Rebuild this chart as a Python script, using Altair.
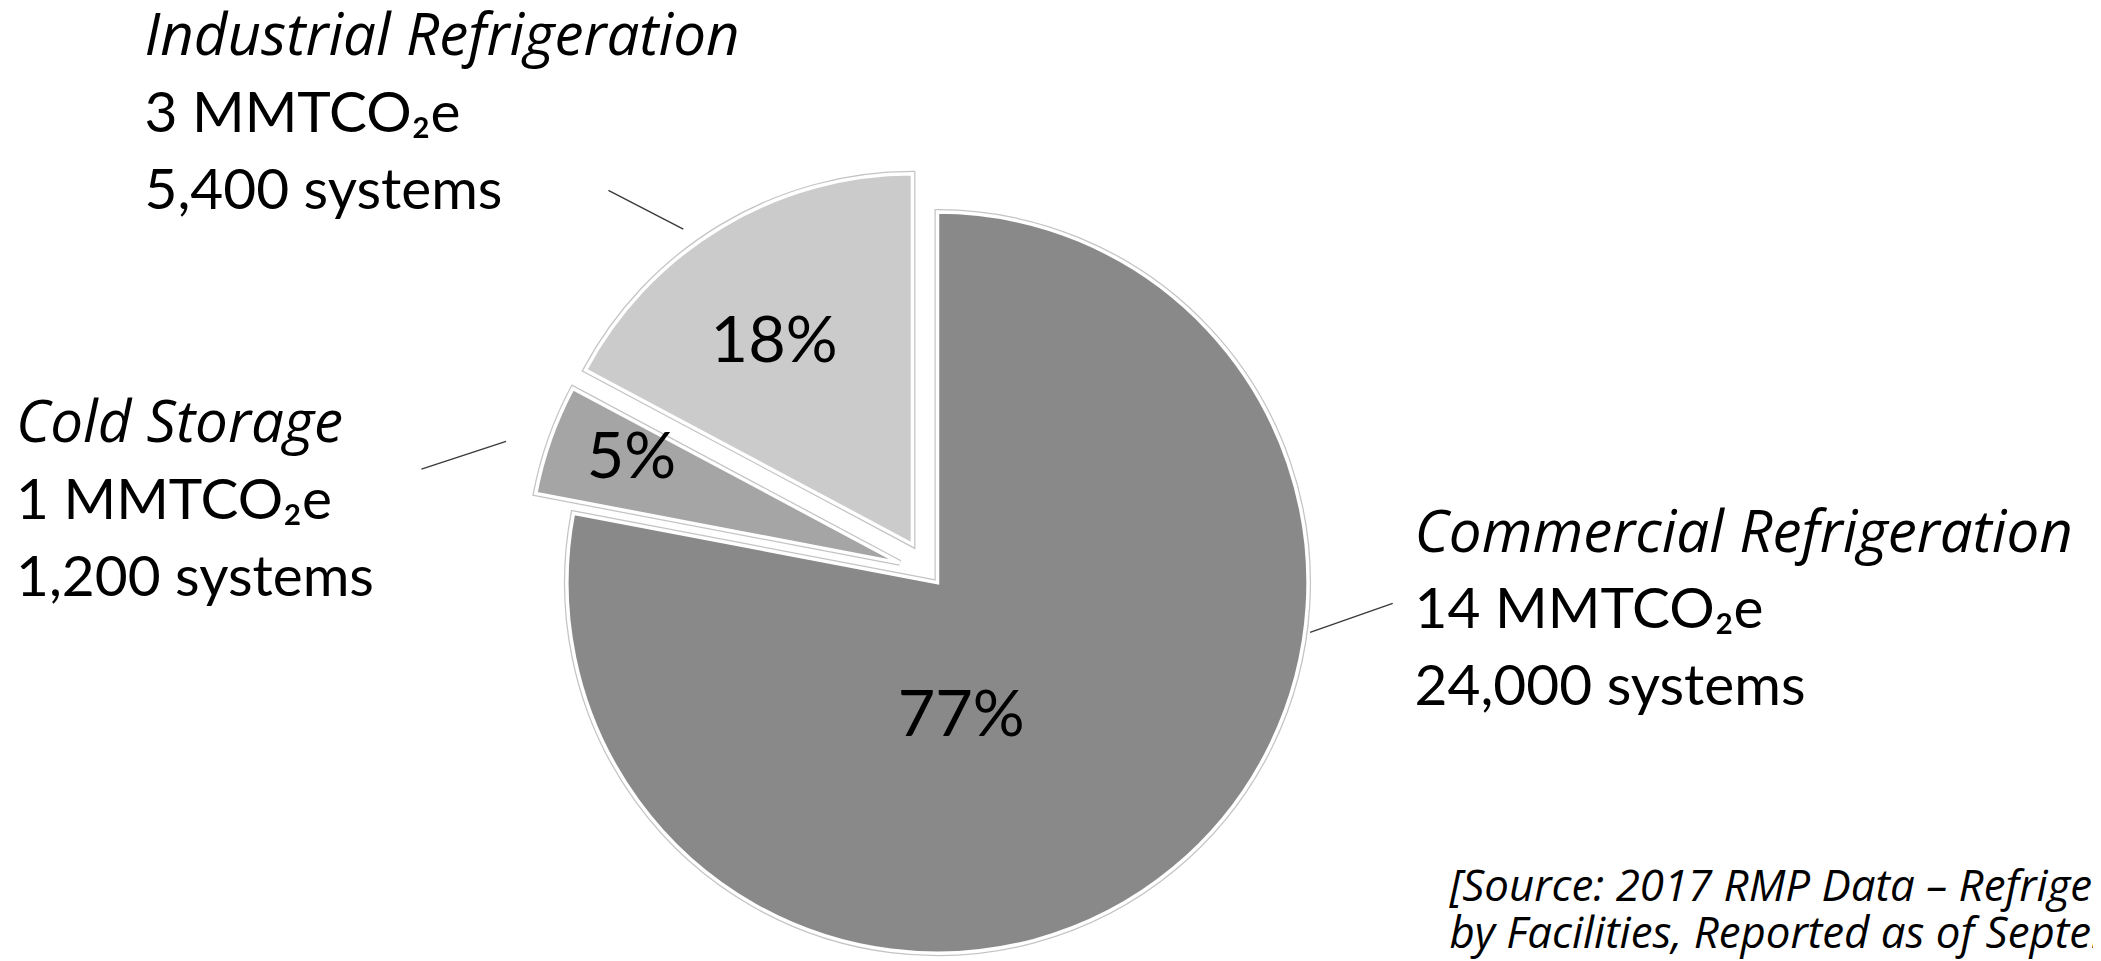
import altair as alt
import pandas as pd

# ---------------- data ----------------
categories = ["Commercial Refrigeration", "Cold Storage", "Industrial Refrigeration"]
shares = [78.0, 4.8, 17.2]                      # slice sizes (from slice angles)
pct_labels = ["77%", "5%", "18%"]
emission_labels = ["14 MMTCO\u2082e", "1 MMTCO\u2082e", "3 MMTCO\u2082e"]
system_labels = ["24,000 systems", "1,200 systems", "5,400 systems"]
source_lines = ["[Source: 2017 RMP Data \u2013 Refrigeration",
                "by Facilities, Reported as of September"]

# ---------------- styles / layout (not data) ----------------
slice_colors = ["#898989", "#a5a5a5", "#cbcbcb"]
explode_px = [12, 32, 34]
pct_angle = [167.6, 291.1, 326.0]
pct_radius = [146.6, 321.0, 279.6]
lead_a0 = [98.8, 287.3, 324.4]
lead_r0 = [386.2, 445.6, 425.2]
lead_a1 = [93.7, 281.6, 320.0]
lead_r1 = [465.6, 521.0, 502.0]
block_dx = [486.6, -917.4, -788.4]
block_dy = [-21.8, -131.8, -520.2]

W, H = 2093, 953
CX, CY = 925.4, 565.8
R = 372
FONT = "Lato"
ITALIC_FONT = "Open Sans"
LABEL_SIZE = 57
TITLE_SIZE = 58.5
LINE_GAP = 77

df = pd.DataFrame({
    "order": list(range(len(categories))),
    "category": categories,
    "share": shares,
    "pct": pct_labels,
    "emis": emission_labels,
    "sys": system_labels,
    "color": slice_colors,
    "explode": explode_px,
    "pa": pct_angle, "pr": pct_radius,
    "la0": lead_a0, "lr0": lead_r0, "la1": lead_a1, "lr1": lead_r1,
    "bdx": block_dx, "bdy": block_dy,
})

base = (
    alt.Chart(df)
    .transform_joinaggregate(total="sum(share)")
    .transform_window(cum="sum(share)", sort=[alt.SortField("order", order="ascending")],
                      frame=[None, 0])
    .transform_calculate(
        a1="datum.cum / datum.total * 2 * PI",
        a0="(datum.cum - datum.share) / datum.total * 2 * PI",
    )
    .transform_calculate(mid="(datum.a0 + datum.a1) / 2")
    .transform_calculate(
        cx=f"{CX} + datum.explode * sin(datum.mid)",
        cy=f"{CY} - datum.explode * cos(datum.mid)",
        px=f"{CX} + datum.pr * sin(datum.pa * PI / 180)",
        py=f"{CY} - datum.pr * cos(datum.pa * PI / 180)",
        lx0=f"{CX} + datum.lr0 * sin(datum.la0 * PI / 180)",
        ly0=f"{CY} - datum.lr0 * cos(datum.la0 * PI / 180)",
        lx1=f"{CX} + datum.lr1 * sin(datum.la1 * PI / 180)",
        ly1=f"{CY} - datum.lr1 * cos(datum.la1 * PI / 180)",
        tx=f"{CX} + datum.bdx",
        ty1=f"{CY} + datum.bdy",
        ty2=f"{CY} + datum.bdy + {LINE_GAP}",
        ty3=f"{CY} + datum.bdy + {2 * LINE_GAP}",
    )
)

arc_enc = dict(
    theta=alt.Theta("a0:Q", scale=None),
    theta2="a1:Q",
    x=alt.X("cx:Q", scale=None),
    y=alt.Y("cy:Q", scale=None),
    color=alt.Color("color:N", scale=None),
)
arcs_outline = base.mark_arc(radius=R, stroke="#c4c4c4", strokeWidth=6).encode(**arc_enc)
arcs = base.mark_arc(radius=R, stroke="white", strokeWidth=3.5).encode(**arc_enc)

pct = base.mark_text(font=FONT, fontSize=65, color="black", align="center",
                     baseline="middle").encode(
    x=alt.X("px:Q", scale=None), y=alt.Y("py:Q", scale=None), text="pct:N")

leaders = base.mark_rule(color="#3a3a3a", strokeWidth=1.4).encode(
    x=alt.X("lx0:Q", scale=None), y=alt.Y("ly0:Q", scale=None),
    x2="lx1:Q", y2="ly1:Q")

titles = base.mark_text(font=ITALIC_FONT, fontSize=TITLE_SIZE, fontStyle="italic",
                        color="black", align="left", baseline="alphabetic").encode(
    x=alt.X("tx:Q", scale=None), y=alt.Y("ty1:Q", scale=None), text="category:N")
emis = base.mark_text(font=FONT, fontSize=LABEL_SIZE, color="black",
                      align="left", baseline="alphabetic").encode(
    x=alt.X("tx:Q", scale=None), y=alt.Y("ty2:Q", scale=None), text="emis:N")
syst = base.mark_text(font=FONT, fontSize=LABEL_SIZE, color="black",
                      align="left", baseline="alphabetic").encode(
    x=alt.X("tx:Q", scale=None), y=alt.Y("ty3:Q", scale=None), text="sys:N")

src_df = pd.DataFrame({"line": source_lines, "row": list(range(len(source_lines)))})
source = (
    alt.Chart(src_df)
    .transform_calculate(sx="1447", sy="895 + datum.row * 47")
    .mark_text(font=ITALIC_FONT, fontSize=44, fontStyle="italic", color="black",
               align="left", baseline="alphabetic")
    .encode(x=alt.X("sx:Q", scale=None), y=alt.Y("sy:Q", scale=None), text="line:N")
)

chart = (
    alt.layer(arcs_outline, arcs, pct, leaders, titles, emis, syst, source)
    .properties(width=W, height=H, padding=0, autosize=alt.AutoSizeParams(type="none"),
                background="white")
    .configure_view(stroke=None)
)

chart.save("out.html", embed_options={"renderer": "svg", "actions": False})
